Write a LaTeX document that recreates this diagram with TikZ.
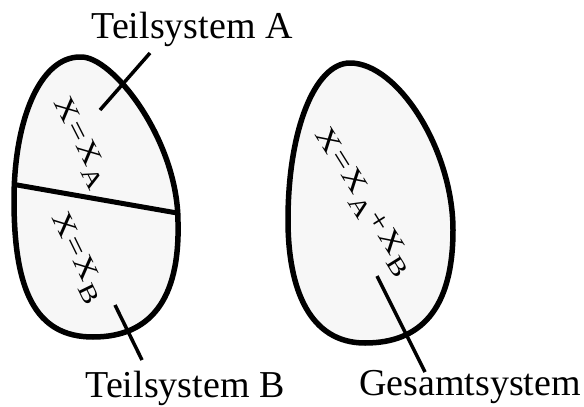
\documentclass[tikz,border=0pt]{standalone}
\usepackage{fontspec}
\setmainfont{Liberation Serif}
\begin{document}
\begin{tikzpicture}[x=1pt,y=-1pt,
  blob/.style={line width=5.5pt,fill=black!3,line join=round},
  leader/.style={line width=3.5pt},
  lbl/.style={font=\fontsize{38}{40}\selectfont,anchor=base,inner sep=0pt},
  frm/.style={font=\fontsize{35}{37}\selectfont,inner sep=0pt}]
\newcommand{\sub}[1]{\raisebox{-0.3em}{\fontsize{30}{32}\selectfont #1}}
\newcommand{\gp}{\kern1.5pt}
\useasboundingbox (0,0) rectangle (584,407);
% left blob
\def\leftblob{(80,57) .. controls (112,55) and (178,140) .. (178,222)
  .. controls (180,300) and (150,337) .. (93,337)
  .. controls (35,337) and (14,290) .. (14,200)
  .. controls (14,120) and (40,57) .. (80,57) -- cycle}
\fill[black!3] \leftblob;
\begin{scope}
  \clip \leftblob;
  \draw[line width=5pt] (0,182) -- (200,217);
\end{scope}
\draw[blob,fill=none] \leftblob;
% right blob
\draw[blob] (350,63) .. controls (398,63) and (453,150) .. (453,230)
  .. controls (453,310) and (420,343) .. (365,343)
  .. controls (310,343) and (288,290) .. (288,220)
  .. controls (288,130) and (315,63) .. (350,63) -- cycle;
% formulas
\node[frm,rotate=-63,yscale=0.8] (fa) at (80,143) {X\gp=\gp X\gp\sub{A}};
\node[frm,rotate=-64,yscale=0.8] (fb) at (77,258) {X\gp=\gp X\gp\sub{B}};
\node[frm,rotate=-58,yscale=0.8] (fg) at (363,202) {X\gp=\gp X\gp\sub{A}\gp+\gp X\gp\sub{B}};
% labels
\node[lbl] (ta) at (192,38) {Teilsystem A};
\node[lbl] (tb) at (185,397) {Teilsystem B};
\node[lbl] (tg) at (470,395) {Gesamtsystem};
% leaders
\coordinate (a1) at (100,110);
\coordinate (a2) at (150,53);
\coordinate (b1) at (115,305);
\coordinate (b2) at (142,360);
\coordinate (g1) at (377,276);
\coordinate (g2) at (425,372);
\draw[leader] (a1) -- (a2);
\draw[leader] (b1) -- (b2);
\draw[leader] (g1) -- (g2);
\end{tikzpicture}
\end{document}
